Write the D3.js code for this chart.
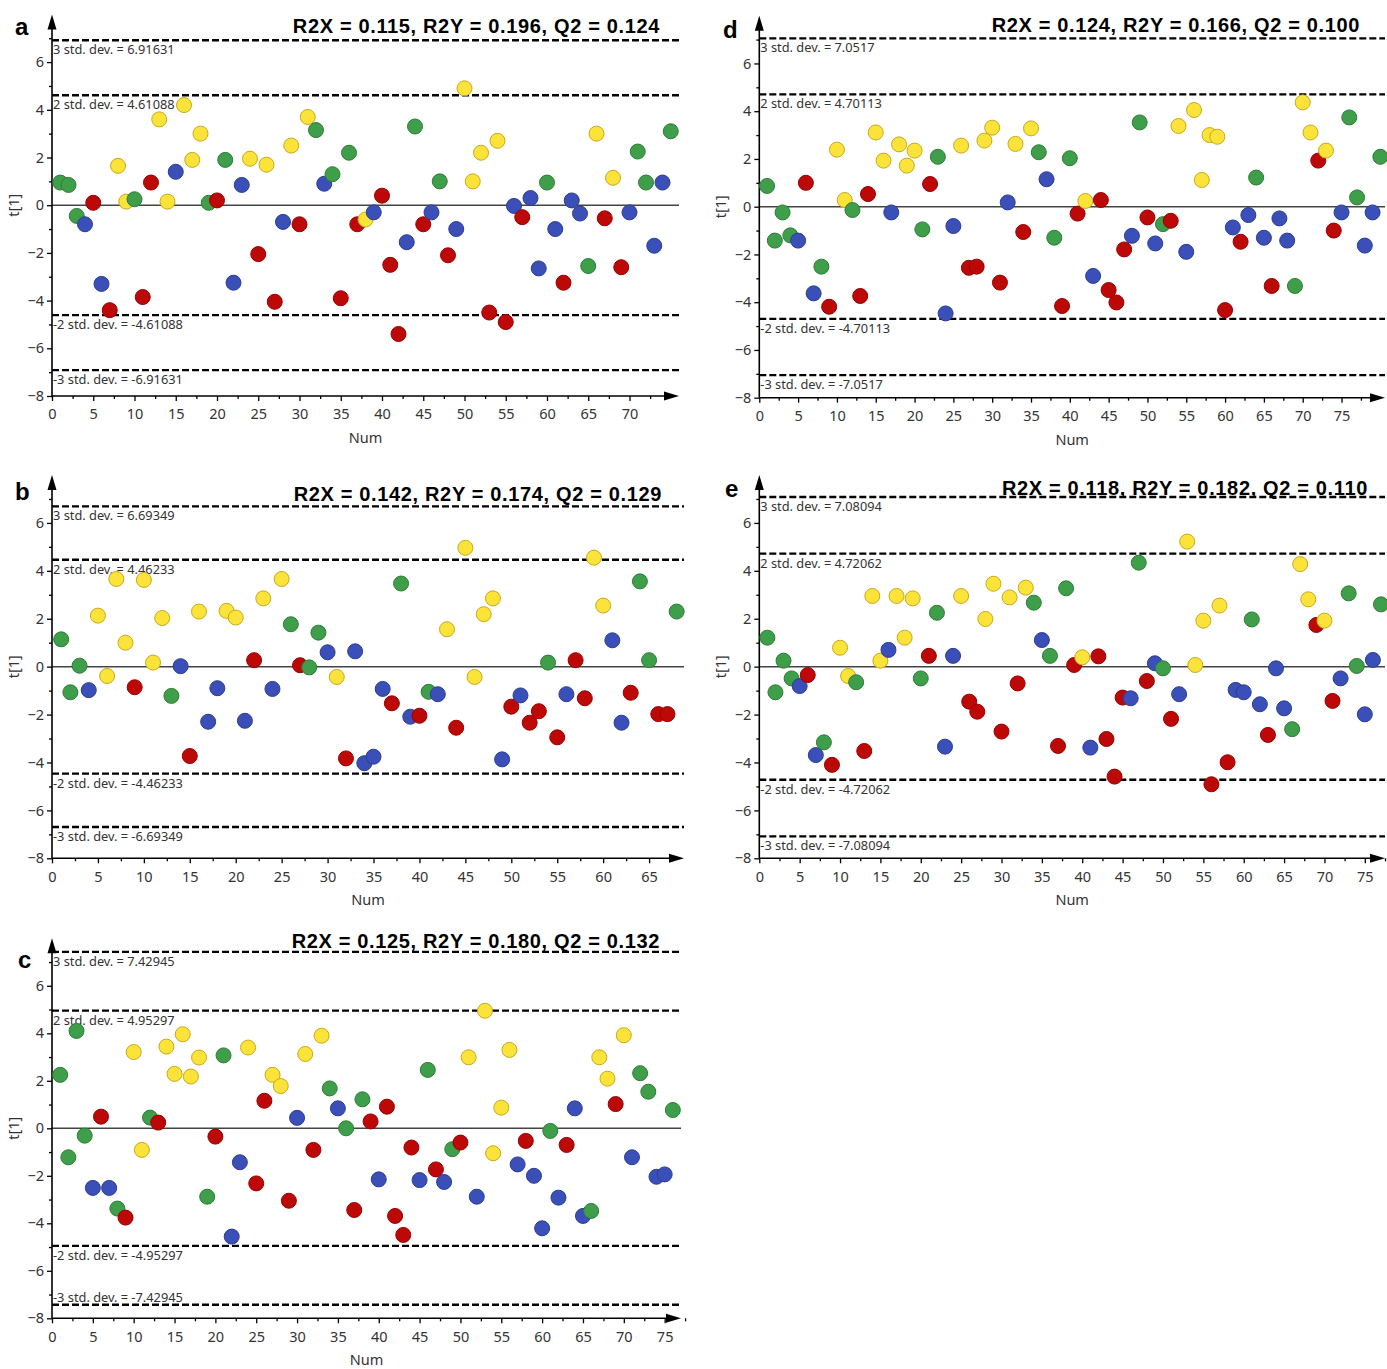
<!DOCTYPE html>
<html>
<head>
<meta charset="utf-8">
<script src="https://cdn.jsdelivr.net/npm/d3@7"></script>
<style>
  body { margin: 0; background: #fff; }
  svg { font-family: "Noto Sans", "DejaVu Sans", sans-serif; }
</style>
</head>
<body>
<div id="chart"></div>
<script>
// Group of each sample in Num order: G green, B blue, R red, Y yellow
var groupsA = "GGGBRBRYYG" + "RRYYBYYYGR" + "GBBYRYRBYR" + "YGBGRGRYBR" + "RRBGRBGRBY" + "YYRYRBRBBG" + "BRBBGYRYRB" + "GGBBG";
var valuesA = [0.95, 0.85, -0.45, -0.8, 0.1, -3.3, -4.4, 1.65, 0.15, 0.25,
  -3.85, 0.95, 3.6, 0.15, 1.4, 4.2, 1.9, 3.0, 0.1, 0.2,
  1.9, -3.25, 0.85, 1.95, -2.05, 1.7, -4.05, -0.7, 2.5, -0.8,
  3.7, 3.15, 0.9, 1.3, -3.9, 2.2, -0.8, -0.6, -0.3, 0.4,
  -2.5, -5.4, -1.55, 3.3, -0.8, -0.3, 1.0, -2.1, -1.0, 4.9,
  1.0, 2.2, -4.5, 2.7, -4.9, -0.03, -0.5, 0.3, -2.65, 0.95,
  -1.0, -3.25, 0.2, -0.35, -2.55, 3.0, -0.55, 1.15, -2.6, -0.3,
  2.25, 0.95, -1.7, 0.95, 3.1];

var groupsB = "GGGBYYYYRY" + "YYGBRYBBYY" + "BRYBYGRGGB" + "YRBBBBRGBR" + "GBYRYYYYBR" + "BRRGRBRRYY" + "BBRGGRRG";
var valuesB = [1.14, -1.07, 0.04, -0.98, 2.13, -0.39, 3.66, 1.0, -0.86, 3.62,
  0.17, 2.03, -1.22, 0.02, -3.73, 2.3, -2.3, -0.9, 2.33, 2.05,
  -2.26, 0.27, 2.85, -0.93, 3.66, 1.77, 0.06, -0.03, 1.42, 0.6,
  -0.43, -3.83, 0.64, -4.03, -3.76, -0.93, -1.53, 3.47, -2.09, -2.05,
  -1.05, -1.15, 1.56, -2.55, 4.96, -0.43, 2.19, 2.85, -3.87, -1.67,
  -1.2, -2.34, -1.86, 0.17, -2.95, -1.15, 0.27, -1.32, 4.55, 2.55,
  1.1, -2.34, -1.09, 3.56, 0.27, -1.98, -1.98, 2.3];

var groupsC = "GGGGBRBGRY" + "YGRYYYYYGR" + "GBBYRRYYRB" + "YRYGBGRGRB" + "RRRRBGRBGR" + "YBYYYYBRBB" + "GBRBBGYYRY" + "BGGBBG";
var valuesC = [2.25, -1.22, 4.1, -0.31, -2.51, 0.49, -2.51, -3.38, -3.76, 3.21,
  -0.91, 0.45, 0.24, 3.44, 2.29, 3.96, 2.18, 2.98, -2.88, -0.35,
  3.07, -4.56, -1.43, 3.4, -2.32, 1.16, 2.25, 1.78, -3.05, 0.44,
  3.13, -0.91, 3.9, 1.68, 0.84, 0.0, -3.44, 1.22, 0.29, -2.15,
  0.91, -3.69, -4.49, -0.81, -2.18, 2.46, -1.73, -2.26, -0.88, -0.6,
  2.99, -2.88, 4.95, -1.05, 0.87, 3.3, -1.52, -0.53, -2.0, -4.21,
  -0.11, -2.92, -0.7, 0.84, -3.69, -3.48, 2.99, 2.09, 1.02, 3.92,
  -1.22, 2.32, 1.54, -2.04, -1.94, 0.77];

var groupsD = "GGGGBRBGRY" + "YGRRYYBYYY" + "GRGBBYRRYY" + "RBYRYGBGRG" + "RYBRRRRBGR" + "BGRYBYYYYR" + "BRBGBRBBGY" + "YRYRBGGBBG";
var valuesD = [0.87, -1.42, -0.24, -1.2, -1.42, 1.0, -3.63, -2.51, -4.19, 2.39,
  0.28, -0.14, -3.74, 0.53, 3.11, 1.93, -0.24, 2.61, 1.72, 2.35,
  -0.95, 0.95, 2.09, -4.47, -0.81, 2.56, -2.56, -2.51, 2.77, 3.31,
  -3.18, 0.18, 2.63, -1.06, 3.28, 2.28, 1.15, -1.3, -4.16, 2.03,
  -0.29, 0.24, -2.9, 0.28, -3.49, -4.01, -1.79, -1.22, 3.53, -0.45,
  -1.54, -0.73, -0.59, 3.38, -1.89, 4.05, 1.12, 3.0, 2.93, -4.33,
  -0.87, -1.47, -0.35, 1.22, -1.3, -3.32, -0.49, -1.42, -3.32, 4.37,
  3.11, 1.93, 2.35, -1.0, -0.24, 3.74, 0.39, -1.63, -0.24, 2.09];

var groupsE = "GGGGBRBGRY" + "YGRYYBYYYG" + "RGBBYRRYYR" + "YRYGBGRGRY" + "BRRRRBGRBG" + "RBYYYRYRBB" + "GBRBBGYYRY" + "RBGGBBG";
var valuesE = [1.21, -1.07, 0.25, -0.49, -0.81, -0.35, -3.69, -3.16, -4.1, 0.79,
  -0.39, -0.65, -3.52, 2.95, 0.25, 0.7, 2.95, 1.21, 2.85, -0.49,
  0.45, 2.25, -3.34, 0.45, 2.95, -1.46, -1.88, 1.99, 3.46, -2.71,
  2.89, -0.7, 3.3, 2.67, 1.11, 0.45, -3.31, 3.27, 0.07, 0.39,
  -3.38, 0.43, -3.02, -4.59, -1.29, -1.32, 4.34, -0.6, 0.14, -0.07,
  -2.18, -1.15, 5.22, 0.07, 1.92, -4.91, 2.55, -3.99, -0.97, -1.07,
  1.97, -1.57, -2.85, -0.07, -1.74, -2.61, 4.28, 2.81, 1.74, 1.92,
  -1.43, -0.49, 3.06, 0.03, -1.99, 0.28, 2.6];

// 2 and 3 std. dev. limits
var sdA = ["4.61088", "6.91631"];
var sdB = ["4.46233", "6.69349"];
var sdC = ["4.95297", "7.42945"];
var sdD = ["4.70113", "7.0517"];
var sdE = ["4.72062", "7.08094"];

var titles = ["R2X = 0.115, R2Y = 0.196, Q2 = 0.124",
  "R2X = 0.142, R2Y = 0.174, Q2 = 0.129",
  "R2X = 0.125, R2Y = 0.180, Q2 = 0.132",
  "R2X = 0.124, R2Y = 0.166, Q2 = 0.100",
  "R2X = 0.118, R2Y = 0.182, Q2 = 0.110"];
var letters = ["a", "b", "c", "d", "e"];
var yTickValues = [-8, -6, -4, -2, 0, 2, 4, 6];
var xTickMax = [70, 65, 75, 75, 75];

var colors = {
  G: {fill: "#3f9e4a", stroke: "#2e7d37"},
  B: {fill: "#3a50b8", stroke: "#2b3d92"},
  R: {fill: "#bd0808", stroke: "#9a0000"},
  Y: {fill: "#fbe33a", stroke: "#c9a81c"}
};

// panel boxes (pixels) and x extent of each axis
var panels = [
  {groups: groupsA, values: valuesA, sd: sdA, left: 52, right: 679, top: 14.4, bottom: 396, xMax: 76,
    letterX: 15, letterY: 35, titleX: 660, titleY: 33},
  {groups: groupsB, values: valuesB, sd: sdB, left: 52, right: 684, top: 475, bottom: 858.3, xMax: 68.8,
    letterX: 15, letterY: 500, titleX: 662, titleY: 501},
  {groups: groupsC, values: valuesC, sd: sdC, left: 52, right: 681, top: 938.3, bottom: 1318.3, xMax: 77,
    letterX: 18, letterY: 968, titleX: 660, titleY: 948},
  {groups: groupsD, values: valuesD, sd: sdD, left: 759.3, right: 1385, top: 15.7, bottom: 397.7, xMax: 80.6,
    letterX: 723, letterY: 38, titleX: 1360, titleY: 32},
  {groups: groupsE, values: valuesE, sd: sdE, left: 759.3, right: 1385, top: 475, bottom: 858.3, xMax: 77.5,
    letterX: 725, letterY: 497, titleX: 1368, titleY: 495}
];

var svg = d3.select("#chart")
  .append("svg")
  .attr("width", 1387)
  .attr("height", 1369);

panels.forEach(function(p, i) {
  var g = svg.append("g");
  var data = p.values.map(function(v, j) {
    return {num: j + 1, t: v, group: p.groups[j]};
  });

  // Step 1: scales
  var x = d3.scaleLinear().domain([0, p.xMax]).range([p.left, p.right]);
  var y = d3.scaleLinear().domain([-8, 8]).range([p.bottom, p.top]);

  // Step 2: zero line and std. dev. limits
  g.append("line")
    .attr("x1", p.left).attr("x2", p.right)
    .attr("y1", y(0)).attr("y2", y(0))
    .attr("stroke", "#444").attr("stroke-width", 1.5);

  var limits = [];
  p.sd.forEach(function(s, k) {
    var n = k + 2;
    limits.push({value: +s, label: n + " std. dev. = " + s});
    limits.push({value: -s, label: "-" + n + " std. dev. = -" + s});
  });

  g.selectAll(".limit")
    .data(limits)
    .enter()
    .append("line")
    .attr("class", "limit")
    .attr("x1", p.left).attr("x2", p.right)
    .attr("y1", d => y(d.value)).attr("y2", d => y(d.value))
    .attr("stroke", "#000")
    .attr("stroke-width", 2.3)
    .attr("stroke-dasharray", "7,3");

  g.selectAll(".limitLabel")
    .data(limits)
    .enter()
    .append("text")
    .attr("class", "limitLabel")
    .attr("x", p.left + 1)
    .attr("y", function(d) {
      var yy = y(d.value);
      return (yy + 16 > p.bottom) ? yy - 3 : yy + 14;
    })
    .attr("font-size", "12.8px")
    .attr("fill", "#333")
    .text(d => d.label);

  // Step 3: axes
  var xAxis = d3.axisBottom(x)
    .tickValues(d3.range(0, xTickMax[i] + 1, 5))
    .tickSize(5)
    .tickPadding(8);
  var xMinor = d3.axisBottom(x)
    .tickValues(d3.range(2.5, xTickMax[i] + 5, 5))
    .tickSize(3)
    .tickFormat("");
  var yAxis = d3.axisLeft(y)
    .tickValues(yTickValues)
    .tickSize(5)
    .tickPadding(3);
  var yMinor = d3.axisLeft(y)
    .tickValues(d3.range(-7, 8, 2))
    .tickSize(3)
    .tickFormat("");

  [xAxis, xMinor, yAxis, yMinor].forEach(function(ax, k) {
    var a = g.append("g")
      .attr("transform", k < 2 ? `translate(0, ${p.bottom})` : `translate(${p.left}, 0)`)
      .call(ax);
    a.attr("font-family", null);
    a.select(".domain").remove();
    a.selectAll("line").attr("stroke", "#000").attr("stroke-width", 1.3);
    a.selectAll("text").attr("font-size", "14.5px").attr("fill", "#333");
  });

  // axis lines with arrow heads
  g.append("line")
    .attr("x1", p.left).attr("x2", p.right - 4)
    .attr("y1", p.bottom).attr("y2", p.bottom)
    .attr("stroke", "#000").attr("stroke-width", 1.6);
  g.append("line")
    .attr("x1", p.left).attr("x2", p.left)
    .attr("y1", p.bottom).attr("y2", p.top + 4)
    .attr("stroke", "#000").attr("stroke-width", 1.6);
  g.append("path")
    .attr("d", `M${p.right},${p.bottom} L${p.right - 15},${p.bottom - 4.5} L${p.right - 15},${p.bottom + 4.5} Z`)
    .attr("fill", "#000");
  g.append("path")
    .attr("d", `M${p.left},${p.top} L${p.left - 4.5},${p.top + 15} L${p.left + 4.5},${p.top + 15} Z`)
    .attr("fill", "#000");

  // axis titles
  g.append("text")
    .attr("transform", `translate(${p.left - 33}, ${y(0)}) rotate(-90)`)
    .attr("text-anchor", "middle")
    .attr("font-size", "14.5px")
    .attr("fill", "#333")
    .text("t[1]");

  g.append("text")
    .attr("x", (p.left + p.right) / 2)
    .attr("y", p.bottom + 47)
    .attr("text-anchor", "middle")
    .attr("font-size", "14.5px")
    .attr("fill", "#333")
    .text("Num");

  // Step 4: circles
  g.selectAll("circle")
    .data(data)
    .enter()
    .append("circle")
    .attr("cx", d => x(d.num))
    .attr("cy", d => y(d.t))
    .attr("r", 7.5)
    .attr("fill", d => colors[d.group].fill)
    .attr("stroke", d => colors[d.group].stroke)
    .attr("stroke-width", 1);

  // Step 5: panel letter and model stats
  g.append("text")
    .attr("x", p.letterX)
    .attr("y", p.letterY)
    .style("font-family", "'Liberation Sans', Arial, sans-serif")
    .attr("font-weight", "bold")
    .attr("font-size", "24px")
    .text(letters[i]);

  g.append("text")
    .attr("x", p.titleX)
    .attr("y", p.titleY)
    .attr("text-anchor", "end")
    .style("font-family", "'Liberation Sans', Arial, sans-serif")
    .style("letter-spacing", "0.65px")
    .attr("font-weight", "bold")
    .attr("font-size", "20px")
    .text(titles[i]);
});
</script>
</body>
</html>
